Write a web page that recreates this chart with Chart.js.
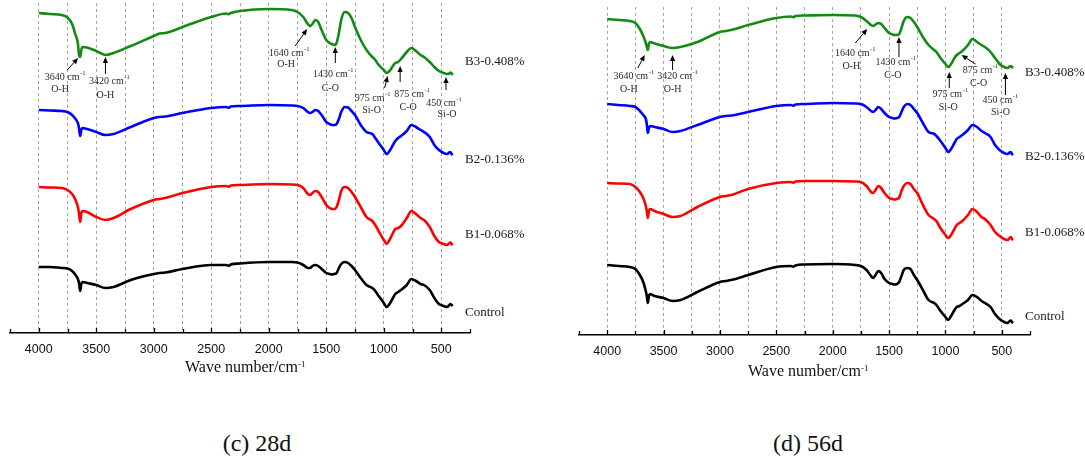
<!DOCTYPE html>
<html>
<head>
<meta charset="utf-8">
<script src="https://cdn.jsdelivr.net/npm/chart.js@4.4.1/dist/chart.umd.min.js"></script>
<style>
  html, body { margin: 0; padding: 0; background: #fff; }
  body { width: 1085px; height: 461px; position: relative; overflow: hidden;
         font-family: "Liberation Serif", "Times New Roman", serif; color: #111; }
  canvas { position: absolute; top: 0; }
  #ftir28 { left: 0; }
  #ftir56 { left: 560px; }
  .xtitle { position: absolute; font-size: 16px; line-height: 16px; white-space: nowrap; }
  .xtitle sup { font-size: 9px; position: relative; top: -3px; vertical-align: top; }
  .caption { position: absolute; font-size: 24px; line-height: 24px; white-space: nowrap;
             transform: translateX(-50%); }
</style>
</head>
<body>
<canvas id="ftir28" width="540" height="361"></canvas>
<canvas id="ftir56" width="525" height="363"></canvas>
<div class="xtitle" style="left:185px; top:359px;">Wave number/cm<sup>-1</sup></div>
<div class="xtitle" style="left:748px; top:363px;">Wave number/cm<sup>-1</sup></div>
<div class="caption" style="left:257px; top:431px;">(c) 28d</div>
<div class="caption" style="left:808px; top:431px;">(d) 56d</div>

<script>
// Wave numbers (cm-1) shared by every spectrum
const wavenumbers = [4000, 3900, 3800, 3750, 3710, 3680, 3660, 3650, 3640, 3630, 3620, 3580, 3500, 3420, 3350,
  3200, 3000, 2950, 2900, 2750, 2500, 2370, 2350, 2330, 2250, 2000, 1800, 1750, 1700, 1660, 1640, 1620, 1595,
  1570, 1540, 1500, 1470, 1450, 1430, 1410, 1390, 1370, 1340, 1310, 1280, 1250, 1200, 1150, 1100, 1080, 1050,
  1000, 975, 950, 920, 900, 875, 850, 800, 760, 720, 680, 650, 600, 560, 520, 480, 450, 430, 420, 410, 400];

const seriesNames = ["Control", "B1-0.068%", "B2-0.136%", "B3-0.408%"];
const seriesColors = ["#000000", "#ff0000", "#0000ff", "#138a13"];

// Offset transmittance (a.u.), 28 days
const control28 = [66, 66, 65, 64.5, 62, 58, 54, 50, 42, 49, 51, 50, 48, 45, 46, 53, 59, 60, 60.5, 64, 68, 68, 67.3,
  68.5, 69.5, 71, 71, 70.5, 68, 65, 65, 67, 68, 67, 64, 60, 59, 58.5, 59, 60, 65, 69, 71, 70, 67, 63, 55, 48, 45,
  43, 38, 30, 26, 29, 35, 39, 41, 43, 48, 54, 52, 49, 48, 43, 35, 29, 27, 26, 28, 29, 28, 27];
const b1_28 = [146, 145.5, 145, 143, 139, 133, 126, 120, 111, 120, 122, 121, 116, 113, 115, 124, 133, 134, 135, 140,
  146, 147, 146.3, 147.5, 148, 149, 148.5, 148, 145, 139, 138, 140, 142, 141, 136, 128, 125, 124, 124, 126, 133, 142,
  146, 145, 141, 136, 126, 116, 112, 109, 103, 93, 89, 93, 100, 104, 105, 107, 115, 122, 119, 115, 113, 106, 97, 91,
  89, 88, 90, 90.5, 89, 88];
const b2_28 = [223, 222.5, 222, 221, 218, 214, 210, 205, 197, 203, 205, 204, 201, 198, 199, 206, 215, 216, 216.5, 220,
  225, 226, 225.3, 226.5, 227, 228, 227.5, 227, 225, 221, 220, 221, 223, 222, 218, 211, 209, 208, 208, 209, 214, 221,
  226, 225.5, 222, 218, 208, 201, 199, 196, 191, 183, 179, 182, 188, 192, 195, 197, 202, 208, 206, 203, 201, 196,
  188, 183, 180, 179, 180.5, 181, 179, 178];
const b3_28 = [320, 319, 318, 315.5, 309, 298, 290, 278, 276, 283, 286, 285.5, 282, 278, 280, 287, 297, 299.5, 300,
  306, 316, 319.5, 318.8, 320, 322, 324, 323, 321, 316, 309, 307, 309, 313, 311, 303, 293, 290, 289, 288, 290, 300,
  313, 321, 320, 315, 306, 293, 283, 276, 274, 269, 263, 260, 262, 267, 270, 271, 274, 281, 285, 282, 278, 276, 271,
  266, 262, 260, 259, 259.5, 260.5, 259.5, 258];

// Offset transmittance (a.u.), 56 days
const control56 = [70, 69, 68, 66, 60, 53, 45, 40, 32, 39, 41, 39, 37, 34, 35, 43, 53, 54, 55, 60, 68, 69, 68.3, 69.5,
  70.5, 71, 70, 69, 65, 59, 57, 60, 64, 62, 56, 52, 51, 50.5, 51, 53, 59, 65, 67, 66, 60, 55, 45, 35, 32, 30, 25,
  18, 15, 19, 25, 28, 29, 31, 35, 40, 38, 34, 32, 28, 21, 16, 13, 12, 14, 14.5, 13, 12];
const b1_56 = [152, 151.5, 151, 148, 143, 137, 130, 125, 117, 124, 126, 124, 121, 118, 119, 128, 138, 139, 140, 146,
  152, 153, 152.3, 153.5, 154, 154, 153.5, 153, 149, 143, 142, 145, 149, 147, 142, 137, 136, 135.5, 136, 137.5, 144,
  149, 152, 151, 146, 142, 130, 120, 116, 114, 108, 100, 97, 100, 106, 110, 112, 114, 120, 126, 123, 118, 116, 110,
  103, 99, 96, 95, 97, 98, 96, 95];
const b2_56 = [231, 230, 229, 228, 224, 220, 217, 212, 202, 207, 209, 208, 206, 203, 204, 210, 218, 219, 219.5, 223,
  229, 230, 229.3, 230.5, 231, 232, 231.5, 231, 228, 224, 223, 225, 228, 226, 222, 218, 217, 216.5, 217, 218, 223, 228,
  231, 230, 226, 222, 212, 203, 201, 199, 195, 187, 183, 186, 192, 196, 198, 200, 205, 210, 208, 204, 202, 198, 190,
  185, 182, 181, 182.5, 183, 181, 180];
const b3_56 = [316, 315, 314, 312, 306, 299, 293, 289, 285, 291, 293, 291.5, 289, 287, 288, 293, 303, 304, 305, 310,
  317, 318.5, 317.8, 319, 319.5, 320, 319.5, 318, 314, 310, 309, 310.5, 312, 311, 307, 302, 300.5, 300, 300, 301, 307,
  314, 318, 317, 313, 308, 298, 290, 285, 283, 278, 271, 268, 271, 277, 280, 282, 284, 290, 296, 293, 290, 288, 283,
  277, 271, 268, 267, 268.5, 269, 268, 267];

// Tick labels on the wave-number axis
const tickLabels = [4000, 3500, 3000, 2500, 2000, 1500, 1000, 500];

// Assigned absorption bands (marked on the B3 spectrum)
const bands = [3640, 3420, 1640, 1430, 975, 875, 450];
const bonds = ["O-H", "O-H", "O-H", "C-O", "Si-O", "C-O", "Si-O"];

// Pixel layout of each band marker, relative to the band point on the curve:
// [tipDx, tipDy, tailDx, tailDy, textDx, textDy, bondDx, bondDy]
const markLayout28 = [
  [-2, 1, -13, 13, -18, 20, -20, 32],
  [0, 2, 0, 19, 1, 26, 0, 40],
  [-3, 3, -15, 20, -24, 27, -24, 38],
  [1, 2, 1, 18, -4, 29, -4, 43],
  [1, 3, -2, 15, -17, 25, -15, 37],
  [2, 4, 2, 20, 11, 32, 10, 45],
  [-1, 3, -1, 16, -6, 29, 0, 40]
];
const markLayout56 = [
  [-3, 5, -10, 18, -17, 26, -19, 39],
  [0, 7, 0, 22, 2, 28, 0, 41],
  [-6, 3, -18, 17, -21, 27, -22, 40],
  [2, 2, 2, 22, -4, 27, -4, 40],
  [1, 5, 1, 21, -1, 27, 0, 40],
  [2, 2, 16, 11, 18, 17, 19, 30],
  [-2, 5, -2, 27, -10, 32, -7, 44]
];
// Vertical offset of each spectrum's name from the end of its curve
const nameOffsets28 = [7, -10, 5, -13];
const nameOffsets56 = [-6, -7, 2, 5];

const SERIF = '"Liberation Serif", "Times New Roman", serif';

function drawWaveLabel(ctx, num, cx, cy) {
  ctx.font = '10px ' + SERIF;
  const main = num + ' cm';
  const w = ctx.measureText(main).width;
  const x0 = cx - w / 2;
  ctx.textAlign = 'left';
  ctx.textBaseline = 'middle';
  ctx.fillText(main, x0, cy);
  ctx.font = '6.5px ' + SERIF;
  ctx.fillText('-1', x0 + w + 0.5, cy - 4);
}

function drawArrow(ctx, x1, y1, x2, y2) {
  const ang = Math.atan2(y2 - y1, x2 - x1);
  const hl = 6, hw = 2.6;
  const bx = x2 - hl * Math.cos(ang), by = y2 - hl * Math.sin(ang);
  ctx.beginPath();
  ctx.moveTo(x1, y1);
  ctx.lineTo(bx, by);
  ctx.stroke();
  ctx.beginPath();
  ctx.moveTo(x2, y2);
  ctx.lineTo(bx + hw * Math.sin(ang), by - hw * Math.cos(ang));
  ctx.lineTo(bx - hw * Math.sin(ang), by + hw * Math.cos(ang));
  ctx.closePath();
  ctx.fill();
}

// Short tick marks pointing up into the plot
const inwardTicks = {
  id: 'inwardTicks',
  afterDraw(chart) {
    const s = chart.scales.x, ctx = chart.ctx, y = s.top;
    ctx.save();
    ctx.strokeStyle = '#000';
    ctx.lineWidth = 1.3;
    s.ticks.forEach(t => {
      const x = Math.round(s.getPixelForValue(t.value)) + 0.5;
      const len = tickLabels.includes(t.value) ? 5 : 4;
      ctx.beginPath();
      ctx.moveTo(x, y);
      ctx.lineTo(x, y - len);
      ctx.stroke();
    });
    ctx.restore();
  }
};

// Spectrum names and band assignments
const bandMarks = {
  id: 'bandMarks',
  afterDatasetsDraw(chart, args, opts) {
    const ctx = chart.ctx, xs = chart.scales.x, ys = chart.scales.y;
    const area = chart.chartArea;
    ctx.save();
    // names at the right end of each curve
    ctx.fillStyle = '#1a1a1a';
    ctx.font = '13px ' + SERIF;
    ctx.textAlign = 'left';
    ctx.textBaseline = 'middle';
    chart.data.datasets.forEach((ds, i) => {
      const last = ds.data[ds.data.length - 1];
      ctx.fillText(ds.label, area.right - 5, ys.getPixelForValue(last.y) + opts.nameOffsets[i]);
    });
    // band arrows and labels on the top spectrum
    const top = chart.data.datasets[chart.data.datasets.length - 1].data;
    ctx.strokeStyle = '#000';
    ctx.lineWidth = 1;
    bands.forEach((b, i) => {
      const pt = top.find(p => p.x === b);
      const px = xs.getPixelForValue(b), py = ys.getPixelForValue(pt.y);
      const L = opts.layout[i];
      ctx.fillStyle = '#000';
      drawArrow(ctx, px + L[2], py + L[3], px + L[0], py + L[1]);
      ctx.fillStyle = '#2a2a2a';
      drawWaveLabel(ctx, String(b), px + L[4], py + L[5]);
      ctx.font = '10px ' + SERIF;
      ctx.textAlign = 'center';
      ctx.fillText(bonds[i], px + L[6], py + L[7]);
    });
    ctx.restore();
  }
};

function makeChart(id, spectra, padding, yMax, layout, nameOffsets) {
  return new Chart(document.getElementById(id), {
    type: 'line',
    data: {
      datasets: spectra.map((vals, i) => ({
        label: seriesNames[i],
        data: wavenumbers.map((w, k) => ({ x: w, y: vals[k] })),
        borderColor: seriesColors[i],
        borderWidth: 2.6,
        pointRadius: 0,
        fill: false,
        cubicInterpolationMode: 'monotone'
      }))
    },
    options: {
      responsive: false,
      animation: false,
      events: [],
      layout: { padding: padding },
      plugins: {
        legend: { display: false },
        tooltip: { enabled: false },
        bandMarks: { layout: layout, nameOffsets: nameOffsets }
      },
      scales: {
        x: {
          type: 'linear',
          reverse: true,
          min: 250,
          max: 4250,
          afterFit(scale) { scale.height = 28; },
          ticks: {
            stepSize: 250,
            autoSkip: false,
            maxRotation: 0,
            padding: 9,
            color: '#111',
            font: { family: '"Liberation Sans", Arial, sans-serif', size: 12.5 },
            callback: v => (tickLabels.includes(v) ? String(v) : '')
          },
          grid: {
            drawTicks: false,
            lineWidth: 0.9,
            color: c => (c.tick && tickLabels[tickLabels.length - 1] <= c.tick.value &&
                         c.tick.value <= tickLabels[0]) ? '#9a9a9a' : 'rgba(0,0,0,0)'
          },
          border: { display: true, color: '#000', width: 1.5, dash: [3, 3] }
        },
        y: { display: false, min: 0, max: yMax }
      }
    },
    plugins: [inwardTicks, bandMarks]
  });
}

makeChart('ftir28', [control28, b1_28, b2_28, b3_28],
  { left: 10, right: 70, top: 3, bottom: 0 }, 330, markLayout28, nameOffsets28);
makeChart('ftir56', [control56, b1_56, b2_56, b3_56],
  { left: 19, right: 55, top: 7, bottom: 0 }, 328, markLayout56, nameOffsets56);
</script>
</body>
</html>
